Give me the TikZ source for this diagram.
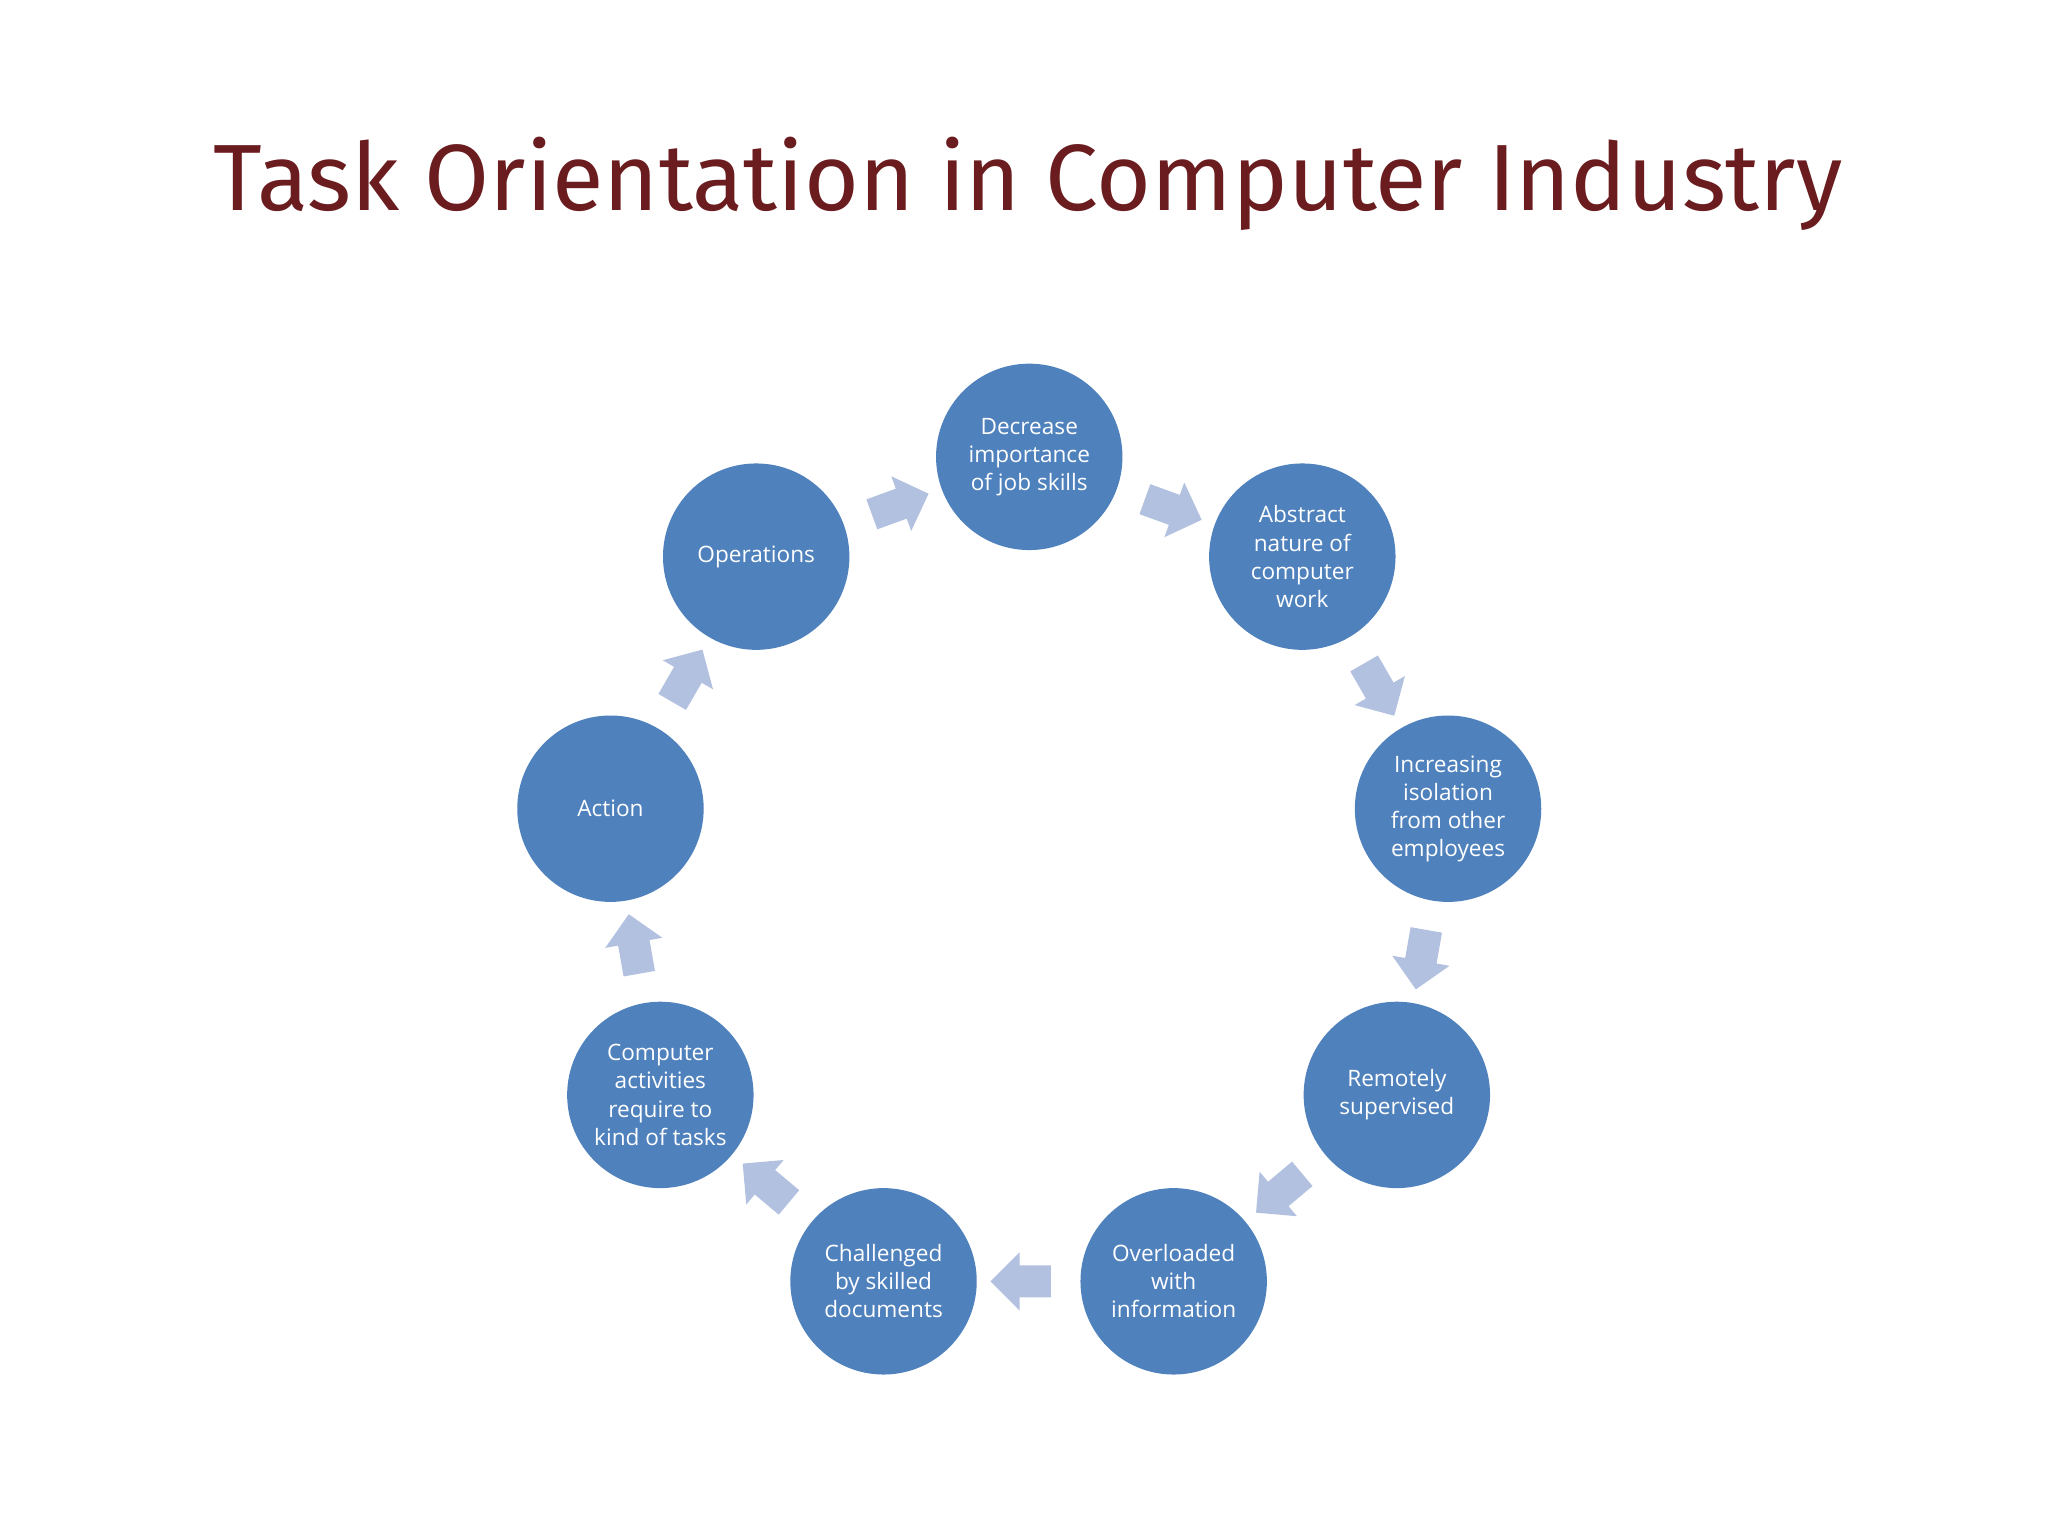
\documentclass[tikz,border=0pt]{standalone}
\usepackage{fontspec}
\setmainfont{Open Sans}
\newfontfamily\titlefont{Fira Sans}
\usetikzlibrary{shapes.arrows,calc}
\definecolor{cblue}{HTML}{4F81BD}
\definecolor{ablue}{HTML}{B3C1E0}
\definecolor{tred}{HTML}{6A1C1F}
\begin{document}
\begin{tikzpicture}[x=0.05cm,y=-0.05cm,
  circ/.style={circle,fill=cblue,minimum size=7.1cm,inner sep=0pt,text=white,align=center,font=\fontsize{24.5}{30.5}\selectfont},
  barrow/.style={single arrow,fill=ablue,minimum height=2.3cm,minimum width=0pt,single arrow head extend=0.5cm,inner xsep=0pt,inner ysep=0.6cm,font=\fontsize{1}{1}\selectfont}]
\fill[white] (0,0) rectangle (1560,1170);
\useasboundingbox (0,0) rectangle (1560,1170);
\node[text=tred,font=\titlefont\fontsize{102}{120}\selectfont] (title) at (783,140) {Task Orientation in Computer Industry};
\node[circ] (c1) at (784,348) {Decrease\\importance\\of job skills};
\node[circ] (c2) at (992,424) {Abstract\\nature of\\computer\\work};
\node[circ] (c3) at (1103,616) {Increasing\\isolation\\from other\\employees};
\node[circ] (c4) at (1064,834) {Remotely\\supervised};
\node[circ] (c5) at (894,976) {Overloaded\\with\\information};
\node[circ] (c6) at (673,976) {Challenged\\by skilled\\documents};
\node[circ] (c7) at (503,834) {Computer\\activities\\require to\\kind of tasks};
\node[circ] (c8) at (465,616) {Action};
\node[circ] (c9) at (576,424) {Operations};
\node[barrow,rotate=20] (a1) at ($(c9)!0.5!(c1)$) {};
\node[barrow,rotate=-20] (a2) at ($(c1)!0.5!(c2)$) {};
\node[barrow,rotate=-60] (a3) at ($(c2)!0.5!(c3)$) {};
\node[barrow,rotate=-100] (a4) at ($(c3)!0.5!(c4)$) {};
\node[barrow,rotate=-140] (a5) at ($(c4)!0.5!(c5)$) {};
\node[barrow,rotate=180] (a6) at ($(c5)!0.5!(c6)$) {};
\node[barrow,rotate=140] (a7) at ($(c6)!0.5!(c7)$) {};
\node[barrow,rotate=100] (a8) at ($(c7)!0.5!(c8)$) {};
\node[barrow,rotate=60] (a9) at ($(c8)!0.5!(c9)$) {};
\end{tikzpicture}
\end{document}
